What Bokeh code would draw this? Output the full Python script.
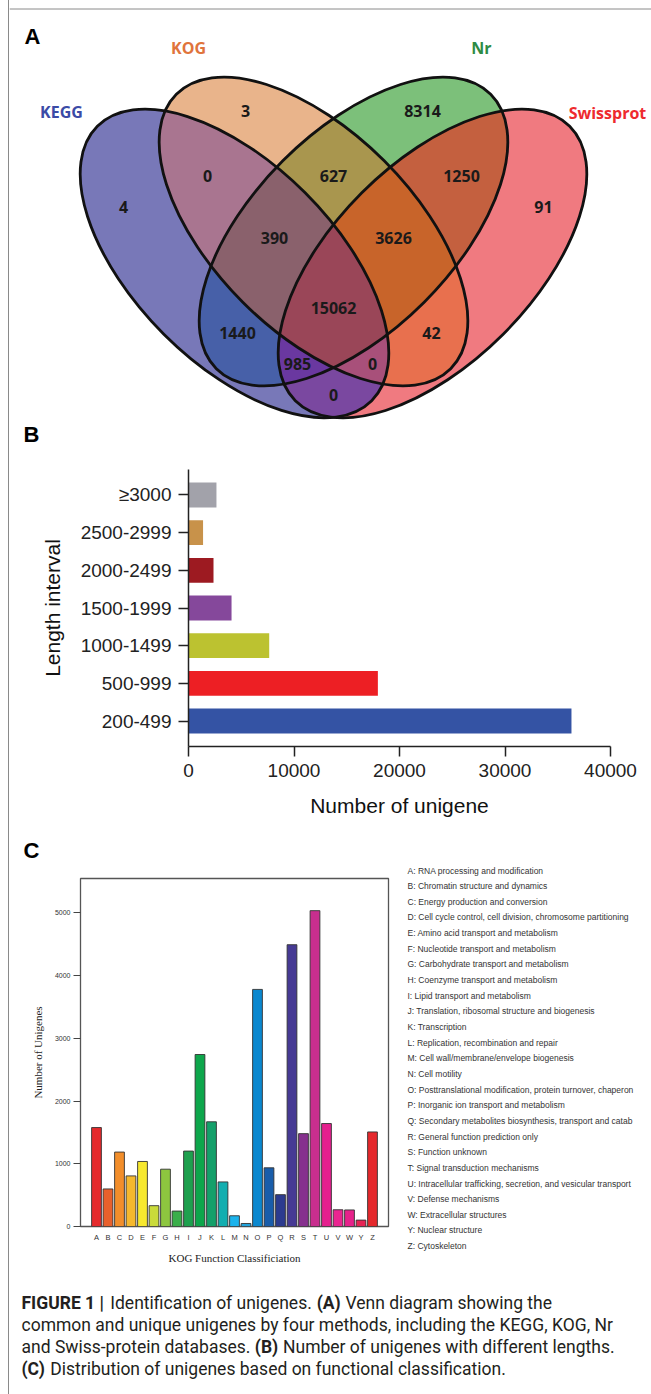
import numpy as np
from bokeh.plotting import figure
from bokeh.models import Range1d, FactorRange, Div, FixedTicker, ColumnDataSource
from bokeh.layouts import row, column
from bokeh.embed import file_html
from bokeh.resources import INLINE
from bokeh.core.properties import value

# ---------------- data ----------------
venn_sets = ["KEGG", "KOG", "Nr", "Swissprot"]
venn_set_colors = ["#3B4BA6", "#E0743C", "#2E8B44", "#EE2A2E"]
venn_regions = ["KEGG", "KOG", "Nr", "Swissprot",
                "KEGG&KOG", "KOG&Nr", "Nr&Swissprot",
                "KEGG&KOG&Nr", "KOG&Nr&Swissprot", "KEGG&KOG&Nr&Swissprot",
                "KEGG&Nr", "KOG&Swissprot", "KEGG&Nr&Swissprot",
                "KEGG&KOG&Swissprot", "KEGG&Swissprot"]
venn_counts = [4, 3, 8314, 91, 0, 627, 1250, 390, 3626, 15062, 1440, 42, 985, 0, 0]
venn_region_colors = ["#7878B8", "#E9B48B", "#7CC07A", "#F07A80",
                      "#A97590", "#A9964E", "#C4603F",
                      "#8A616C", "#C8642A", "#9A4658",
                      "#4760A8", "#E8704E", "#6A38A0",
                      "#A8507A", "#7A48A0"]

length_intervals = ["200-499", "500-999", "1000-1499", "1500-1999", "2000-2499", "2500-2999", "\u22653000"]
length_counts = [36300, 17950, 7650, 4080, 2370, 1380, 2650]
length_colors = ["#3453A4", "#ED1F24", "#BCC230", "#85489B", "#9D1A21", "#C8924A", "#A2A2AA"]

kog_classes = ["A", "B", "C", "D", "E", "F", "G", "H", "I", "J", "K", "L", "M",
               "N", "O", "P", "Q", "R", "S", "T", "U", "V", "W", "Y", "Z"]
kog_counts = [1578, 599, 1187, 807, 1037, 332, 914, 246, 1203, 2743, 1670, 711, 171,
              48, 3781, 936, 508, 4494, 1481, 5037, 1642, 267, 264, 102, 1508]
kog_colors = ["#E52A2C", "#E8602C", "#F28E2B", "#F5B82E", "#F7E82E", "#CADB3A", "#8DC63F",
              "#3AAE4A", "#1EA04E", "#0DA64B", "#14A06A", "#12AEB0", "#1BB3EC", "#22A3DC",
              "#0B88CF", "#195DAA", "#2C3B8F", "#463A94", "#86308E", "#C82E8E", "#E5208E",
              "#EA2590", "#E6228B", "#E62455", "#E5282C"]
kog_descriptions = [
    "A: RNA processing and modification",
    "B: Chromatin structure and dynamics",
    "C: Energy production and conversion",
    "D: Cell cycle control, cell division, chromosome partitioning",
    "E: Amino acid transport and metabolism",
    "F: Nucleotide transport and metabolism",
    "G: Carbohydrate transport and metabolism",
    "H: Coenzyme transport and metabolism",
    "I: Lipid transport and metabolism",
    "J: Translation, ribosomal structure and biogenesis",
    "K: Transcription",
    "L: Replication, recombination and repair",
    "M: Cell wall/membrane/envelope biogenesis",
    "N: Cell motility",
    "O: Posttranslational modification, protein turnover, chaperon",
    "P: Inorganic ion transport and metabolism",
    "Q: Secondary metabolites biosynthesis, transport and catab",
    "R: General function prediction only",
    "S: Function unknown",
    "T: Signal transduction mechanisms",
    "U: Intracellular trafficking, secretion, and vesicular transport",
    "V: Defense mechanisms",
    "W: Extracellular structures",
    "Y: Nuclear structure",
    "Z: Cytoskeleton",
]

caption_segments = [
    # (line, text, bold)
    (0, "FIGURE 1 |", True), (0, "Identification of unigenes.", False),
    (0, "(A)", True), (0, "Venn diagram showing the", False),
    (1, "common and unique unigenes by four methods, including the KEGG, KOG, Nr", False),
    (2, "and Swiss-protein databases.", False), (2, "(B)", True),
    (2, "Number of unigenes with different lengths.", False),
    (3, "(C)", True), (3, "Distribution of unigenes based on functional classification.", False),
]

# ---------------- layout constants (page pixels, origin at top-left of window) ----------------
caption_line_y = [1302, 1324, 1346, 1368]
CAP_X0 = 21
CAP_SIZE = 17.5

venn_label_xy = {
    "KEGG": (123, 206), "KOG": (245, 110), "Nr": (422, 110), "Swissprot": (543, 206),
    "KEGG&KOG": (207, 175), "KOG&Nr": (333, 175), "Nr&Swissprot": (461, 175),
    "KEGG&KOG&Nr": (274, 237), "KOG&Nr&Swissprot": (393, 237),
    "KEGG&KOG&Nr&Swissprot": (333, 307),
    "KEGG&Nr": (237, 332), "KOG&Swissprot": (431, 332),
    "KEGG&Nr&Swissprot": (297, 363), "KEGG&KOG&Swissprot": (372, 363),
    "KEGG&Swissprot": (333, 394),
}
venn_set_label_xy = [(61, 111), (188, 47), (481, 47), (607, 112)]
# ellipse geometry (page px): centre x, centre y, major-axis angle (y down)
ELL = [(234, 263, 45), (313, 231, 45), (353, 231, -45), (432, 263, -45)]
EA, EB = 194, 100

# approximate Roboto advance widths (em) for chaining caption segments
_RW = {' ': .248, 'a': .544, 'b': .561, 'c': .523, 'd': .564, 'e': .530, 'f': .347, 'g': .561,
       'h': .551, 'i': .243, 'j': .239, 'k': .507, 'l': .243, 'm': .876, 'n': .552, 'o': .570,
       'p': .561, 'q': .568, 'r': .338, 's': .516, 't': .327, 'u': .551, 'v': .484, 'w': .751,
       'x': .496, 'y': .473, 'z': .496, 'A': .652, 'B': .623, 'C': .651, 'D': .656, 'E': .568,
       'F': .553, 'G': .681, 'H': .713, 'I': .272, 'K': .627, 'N': .713, 'O': .688, 'R': .616,
       'S': .594, 'U': .648, 'V': .636, 'Y': .600, 'Z': .599, '.': .263, ',': .196, '(': .342,
       ')': .348, '-': .276, '|': .243}


def text_w(s, size, bold):
    w = sum(_RW.get(ch, .56) for ch in s) * size
    return w * (1.04 if bold else 1.0)


def pixfig(x0, x1, y0, y1):
    f = figure(width=x1 - x0, height=y1 - y0, x_range=Range1d(x0, x1), y_range=Range1d(-y1, -y0),
               x_axis_type=None, y_axis_type=None, output_backend="svg", toolbar_location=None,
               min_border=0, background_fill_color="white", border_fill_color="white",
               frame_align=False)
    f.outline_line_color = None
    f.grid.visible = False
    return f


def txt(p, x, y, s, size, font="Liberation Sans", color="#222222", bold=False,
        align="left", baseline="middle"):
    p.text(x=[x], y=[-y], text=[s], text_font=value(font), text_font_size=size,
           text_color=color, text_font_style="bold" if bold else "normal",
           text_align=align, text_baseline=baseline)


# ---------------- Panel A : Venn ----------------
pA = pixfig(9, 651, 0, 421)
pA.segment(x0=[9], y0=[-8.5], x1=[651], y1=[-8.5], line_color="#8a8a8a", line_width=1)

gx0, gx1, gy0, gy1 = 70, 600, 66, 421
xs = np.arange(gx0, gx1) + 0.5
ys = gy1 - 0.5 - np.arange(gy1 - gy0)
X, Y = np.meshgrid(xs, ys)
code = np.zeros(X.shape, dtype=int)
for i, (cx, cy, ang) in enumerate(ELL):
    t = np.radians(ang)
    dx, dy = X - cx, Y - cy
    u = dx * np.cos(t) + dy * np.sin(t)
    v = -dx * np.sin(t) + dy * np.cos(t)
    code |= ((u / EA) ** 2 + (v / EB) ** 2 <= 1).astype(int) << i
rgba = np.zeros(X.shape + (4,), dtype=np.uint8)
for name, col in zip(venn_regions, venn_region_colors):
    c = sum(1 << venn_sets.index(s) for s in name.split("&"))
    rgba[code == c] = [int(col[1:3], 16), int(col[3:5], 16), int(col[5:7], 16), 255]
img = np.ascontiguousarray(rgba).view(dtype=np.uint32).reshape(X.shape)
pA.image_rgba(image=[img], x=gx0, y=-gy1, dw=gx1 - gx0, dh=gy1 - gy0)

pA.ellipse(x=[e[0] for e in ELL], y=[-e[1] for e in ELL], width=2 * EA, height=2 * EB,
           angle=[-np.radians(e[2]) for e in ELL], fill_color=None, line_color="#111111",
           line_width=2.8)

vsrc = ColumnDataSource(dict(
    x=[venn_label_xy[r][0] for r in venn_regions],
    y=[-venn_label_xy[r][1] for r in venn_regions],
    t=[str(c) for c in venn_counts]))
pA.text(x="x", y="y", text="t", source=vsrc, text_font=value("Open Sans"), text_font_size="16px",
        text_font_style="bold", text_color="#1a1a1a", text_align="center", text_baseline="middle")
for (sx, sy), s, col in zip(venn_set_label_xy, venn_sets, venn_set_colors):
    txt(pA, sx, sy, s, "16px", font="Open Sans", color=col, bold=True, align="center")
txt(pA, 32, 36, "A", "22px", color="#000000", bold=True, align="center")

# ---------------- Panel B : length distribution ----------------
pBL = pixfig(9, 651, 421, 462)
txt(pBL, 31, 434, "B", "22px", color="#000000", bold=True, align="center")

pB = figure(width=642, height=373, x_range=Range1d(0, 40000),
            y_range=FactorRange(factors=length_intervals, range_padding=0.05),
            output_backend="svg", toolbar_location=None, frame_align=False,
            min_border_left=179, min_border_right=41, min_border_top=7, min_border_bottom=89)
bsrc = ColumnDataSource(dict(y=length_intervals, v=length_counts, c=length_colors))
pB.hbar(y="y", left=0, right="v", height=0.66, fill_color="c", line_color=None, source=bsrc)
pB.grid.visible = False
pB.outline_line_color = None
pB.xaxis.ticker = FixedTicker(ticks=[0, 10000, 20000, 30000, 40000])
pB.xaxis.minor_tick_line_color = None
for ax in (pB.xaxis, pB.yaxis):
    ax.axis_line_width = 1.5
    ax.axis_line_color = "#222222"
    ax.major_tick_line_width = 1.5
    ax.major_tick_line_color = "#222222"
    ax.major_tick_out = 10
    ax.major_tick_in = 0
    ax.major_label_text_font = "Liberation Sans"
    ax.major_label_text_font_size = "19px"
    ax.major_label_text_color = "#222222"
    ax.axis_label_text_font = "Liberation Sans"
    ax.axis_label_text_font_size = "21px"
    ax.axis_label_text_font_style = "normal"
    ax.axis_label_text_color = "#111111"
pB.xaxis.axis_label = "Number of unigene"
pB.yaxis.axis_label = "Length interval"
pB.xaxis.major_label_standoff = 7
pB.yaxis.major_label_standoff = 7
pB.xaxis.axis_label_standoff = 14
pB.yaxis.axis_label_standoff = 14

# ---------------- Panel C : KOG ----------------
pCL = pixfig(9, 400, 835, 875)
txt(pCL, 31, 850, "C", "22px", color="#000000", bold=True, align="center")

pC = figure(width=391, height=393, x_range=FactorRange(factors=kog_classes, range_padding=0.0713),
            y_range=Range1d(0, 5550), output_backend="svg", toolbar_location=None,
            frame_align=False,
            min_border_left=71, min_border_right=12, min_border_top=3, min_border_bottom=42)
csrc = ColumnDataSource(dict(x=kog_classes, v=kog_counts, c=kog_colors))
pC.vbar(x="x", top="v", bottom=0, width=0.85, fill_color="c", line_color="#333333",
        line_width=0.9, source=csrc)
pC.grid.visible = False
pC.outline_line_color = "#555555"
pC.outline_line_width = 1.3
pC.yaxis.ticker = FixedTicker(ticks=[0, 1000, 2000, 3000, 4000, 5000])
pC.yaxis.minor_tick_line_color = None
pC.yaxis.axis_line_color = None
pC.yaxis.major_tick_out = 7
pC.yaxis.major_tick_in = 0
pC.yaxis.major_tick_line_color = "#444444"
pC.yaxis.major_label_standoff = 3
pC.xaxis.axis_line_color = None
pC.xaxis.major_tick_out = 0
pC.xaxis.major_tick_in = 0
pC.xaxis.major_tick_line_color = None
pC.xaxis.major_label_standoff = 6
for ax in (pC.xaxis, pC.yaxis):
    ax.major_label_text_font = "Liberation Sans"
    ax.major_label_text_color = "#333333"
    ax.axis_label_text_font = "Liberation Serif"
    ax.axis_label_text_font_size = "11px"
    ax.axis_label_text_font_style = "normal"
    ax.axis_label_text_color = "#222222"
pC.yaxis.major_label_text_font_size = "7px"
pC.xaxis.major_label_text_font_size = "7.5px"
pC.xaxis.axis_label = "KOG Function Classificiation"
pC.yaxis.axis_label = "Number of Unigenes"
pC.xaxis.axis_label_standoff = 7
pC.yaxis.axis_label_standoff = 8

pLeg = pixfig(400, 651, 835, 1268)
lsrc = ColumnDataSource(dict(x=[407] * len(kog_descriptions),
                             y=[-(870 + i * 15.65) for i in range(len(kog_descriptions))],
                             t=kog_descriptions))
pLeg.text(x="x", y="y", text="t", source=lsrc, text_font=value("Liberation Sans"),
          text_font_size="8.5px", text_color="#333333", text_align="left", text_baseline="middle")

# ---------------- Caption ----------------
pCap = pixfig(9, 651, 1268, 1394)
cursor = {}
for ln, s, b in caption_segments:
    x = cursor.get(ln, CAP_X0)
    txt(pCap, x, caption_line_y[ln], s, "%.1fpx" % CAP_SIZE, font="Roboto", color="#231f20", bold=b)
    cursor[ln] = x + text_w(s, CAP_SIZE, b) + text_w(" ", CAP_SIZE, False)

spacer = Div(text="", width=8, height=1394, margin=0)
left_line = Div(text="", width=1, height=1394, margin=0,
                styles={"background-color": "#8a8a8a"})

layout = row(spacer, left_line, column(pA, pBL, pB, row(column(pCL, pC), pLeg), pCap))

open("out.html", "w").write(file_html(layout, INLINE, title="Figure 1"))
